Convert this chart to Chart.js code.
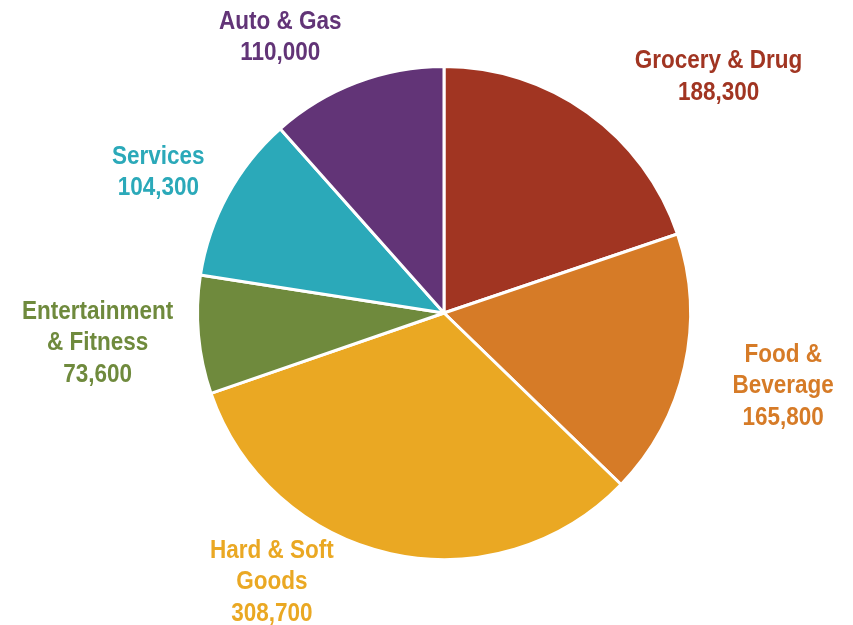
<!DOCTYPE html>
<html>
<head>
<meta charset="utf-8">
<script src="https://cdn.jsdelivr.net/npm/chart.js@4"></script>
<style>
  html, body { margin: 0; padding: 0; background: #fff; }
  #wrap { width: 853px; height: 625px; }
</style>
</head>
<body>
<div id="wrap"><canvas id="chart"></canvas></div>
<script>
// spending by category
const categories = [
  ["Grocery & Drug"],
  ["Food &", "Beverage"],
  ["Hard & Soft", "Goods"],
  ["Entertainment", "& Fitness"],
  ["Services"],
  ["Auto & Gas"],
];
const values = [188300, 165800, 308700, 73600, 104300, 110000];
const colors = ["#A13522", "#D67B27", "#EAA823", "#6F8A3D", "#2BA9B9", "#623477"];

// where each label sits: degrees turned from the slice middle, px beyond the rim
const labelShift = [13.4, -0.9, 20.3, 0.5, -2.0, -9.7];
const labelDist = [117, 100, 71, 101, 73, 76];

const outsideLabels = {
  id: "outsideLabels",
  afterDatasetsDraw(chart) {
    const ctx = chart.ctx;
    const arcs = chart.getDatasetMeta(0).data;
    ctx.save();
    ctx.font = "bold 25px 'Liberation Sans', Arial, sans-serif";
    ctx.textAlign = "center";
    ctx.textBaseline = "middle";
    arcs.forEach((arc, i) => {
      const p = arc.getProps(["x", "y", "startAngle", "endAngle", "outerRadius"], true);
      const a = (p.startAngle + p.endAngle) / 2 + labelShift[i] * Math.PI / 180;
      const r = p.outerRadius + labelDist[i];
      const cx = p.x + Math.cos(a) * r;
      const cy = p.y + Math.sin(a) * r + 2.5;
      const lines = categories[i].concat([values[i].toLocaleString("en-US")]);
      const lh = 31.5;
      const top = cy - (lines.length - 1) * lh / 2;
      ctx.fillStyle = colors[i];
      lines.forEach((t, k) => {
        // squeeze horizontally for a narrow face
        ctx.save();
        ctx.translate(cx, top + k * lh);
        ctx.scale(0.9, 1);
        ctx.fillText(t, 0, 0);
        ctx.restore();
      });
    });
    ctx.restore();
  }
};

new Chart(document.getElementById("chart"), {
  type: "pie",
  data: {
    labels: categories.map(c => c.join(" ")),
    datasets: [{
      data: values,
      backgroundColor: colors,
      borderColor: "#ffffff",
      borderWidth: 3,
    }],
  },
  options: {
    responsive: true,
    maintainAspectRatio: false,
    animation: false,
    layout: { padding: { left: 196, right: 161, top: 65, bottom: 64 } },
    plugins: {
      legend: { display: false },
      tooltip: { enabled: false },
    },
  },
  plugins: [outsideLabels],
});
</script>
</body>
</html>
